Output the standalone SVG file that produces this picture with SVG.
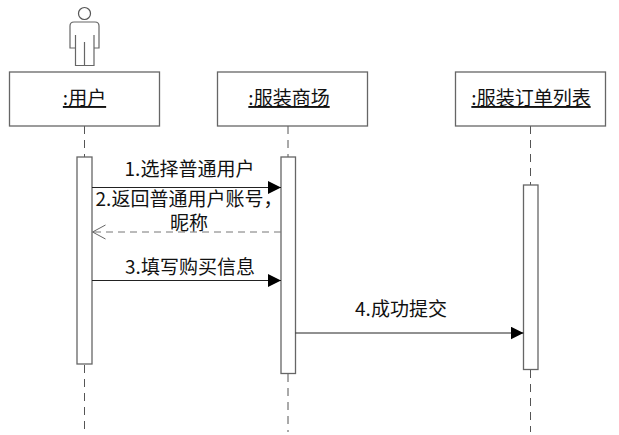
<svg xmlns="http://www.w3.org/2000/svg" width="619" height="435" viewBox="0 0 619 435">
<style>
.box{fill:#fff;stroke:#666;stroke-width:1.3}
.life{fill:none;stroke:#555;stroke-width:1;stroke-dasharray:8 6}
.act{fill:#fff;stroke:#666;stroke-width:1.3}
.msg{fill:none;stroke:#222;stroke-width:1}
.ret{fill:none;stroke:#777;stroke-width:1;stroke-dasharray:7 5}
text{font-family:"Noto Sans CJK SC","Liberation Sans",sans-serif;font-size:19px;fill:#111;text-anchor:middle}
.u{text-decoration:underline}
</style>
<defs>
<marker id="solid" markerUnits="userSpaceOnUse" markerWidth="14" markerHeight="14" refX="13" refY="6.500" orient="auto"><path d="M0 0L13 6.500L0 13Z" fill="#000"/></marker>
<marker id="open" markerUnits="userSpaceOnUse" markerWidth="14" markerHeight="16" refX="13.500" refY="7.500" orient="auto"><path d="M0 0.500L13 7.500L0 14.500" fill="none" stroke="#666" stroke-width="1"/></marker>
</defs>
<g id="lifelines">
<path class="life" d="M84.500 126V157M84.500 365V432"/>
<path class="life" d="M288 126V157M288 374V432"/>
<path class="life" d="M530.500 126V185M530.500 370V432"/>
</g>
<g id="actor">
<circle cx="84.500" cy="13.500" r="6" fill="#fff" stroke="#555" stroke-width="1.200"/>
<path d="M74 22H95Q99 22 99 26V48H94V65.500H75.500V48H70V26Q70 22 74 22ZM75.500 48V35M94 48V35M84.500 65.500V42" fill="#fff" stroke="#666" stroke-width="1.200"/>
</g>
<g id="node-user">
<rect class="box" x="9.500" y="72" width="150" height="54"/>
<text class="u" x="84.500" y="105">:用户</text>
<rect class="act" x="77" y="157" width="15" height="207"/>
</g>
<g id="node-mall">
<rect class="box" x="217.500" y="72" width="150" height="54"/>
<text class="u" x="289" y="105">:服装商场</text>
<rect class="act" x="281" y="157" width="14.500" height="216.500"/>
</g>
<g id="node-list">
<rect class="box" x="455.500" y="72" width="150" height="54"/>
<text class="u" x="531" y="105">:服装订单列表</text>
<rect class="act" x="523.500" y="185" width="14.500" height="184.500"/>
</g>
<g id="connectors">
<path class="msg" d="M92 187.500H281" marker-end="url(#solid)"/>
<path class="ret" d="M281 232H92" marker-end="url(#open)"/>
<path class="msg" d="M92 280.500H281" marker-end="url(#solid)"/>
<path class="msg" d="M295.500 333H523.500" marker-end="url(#solid)"/>
</g>
<g id="labels">
<text x="189.500" y="175.500">1.选择普通用户</text>
<text x="189" y="205.500">2.返回普通用户账号，</text>
<text x="189" y="230">昵称</text>
<text x="190" y="273.500">3.填写购买信息</text>
<text x="401" y="315.500">4.成功提交</text>
</g>
</svg>
